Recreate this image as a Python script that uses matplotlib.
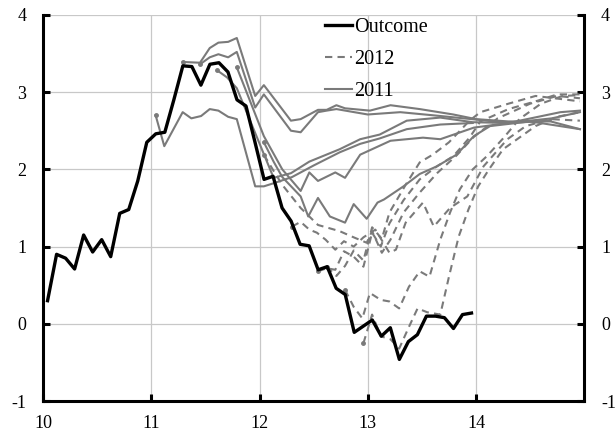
import numpy as np
import matplotlib
matplotlib.use("Agg")
import matplotlib.pyplot as plt

plt.rcParams["font.family"] = ["Liberation Serif", "DejaVu Serif"]
plt.rcParams["font.size"] = 13

# monthly outcome, Jan 2010 - Dec 2013
outcome = [0.30, 0.90, 0.85, 0.71, 1.15, 0.93, 1.09, 0.87, 1.43, 1.48, 1.85, 2.35,
           2.46, 2.48, 2.90, 3.34, 3.33, 3.09, 3.36, 3.38, 3.26, 2.90, 2.82, 2.35,
           1.87, 1.91, 1.50, 1.33, 1.03, 1.01, 0.70, 0.74, 0.46, 0.38, -0.11, -0.03,
           0.05, -0.16, -0.05, -0.46, -0.23, -0.14, 0.10, 0.10, 0.08, -0.06, 0.12, 0.14]

# 2011 forecasts (date, value)
f2011_feb_x = [11.04, 11.12, 11.29, 11.37, 11.46, 11.54, 11.62, 11.71, 11.79, 11.96, 12.04,
               12.13, 12.30, 12.50, 12.74, 12.93, 13.11, 13.36, 13.67, 13.97]
f2011_feb_y = [2.70, 2.30, 2.74, 2.66, 2.69, 2.78, 2.76, 2.68, 2.65, 1.78, 1.78,
               1.82, 1.90, 2.05, 2.22, 2.33, 2.40, 2.52, 2.58, 2.60]
f2011_apr_x = [11.29, 11.45, 11.54, 11.62, 11.71, 11.79, 11.96, 12.04, 12.29, 12.38, 12.46,
               12.54, 12.62, 12.71, 12.79, 13.02, 13.21, 13.48, 13.79, 14.00, 14.30, 14.69, 14.96]
f2011_apr_y = [3.39, 3.38, 3.57, 3.64, 3.65, 3.70, 2.95, 3.09, 2.63, 2.65, 2.71,
               2.77, 2.77, 2.83, 2.79, 2.76, 2.83, 2.78, 2.71, 2.65, 2.62, 2.62, 2.52]
f2011_jul_x = [11.45, 11.54, 11.62, 11.71, 11.79, 11.96, 12.04, 12.29, 12.38, 12.46, 12.54,
               12.62, 12.71, 13.00, 13.30, 13.60, 13.96, 14.30, 14.70, 14.96]
f2011_jul_y = [3.36, 3.45, 3.49, 3.45, 3.52, 2.80, 2.97, 2.50, 2.48, 2.61, 2.74,
               2.76, 2.78, 2.71, 2.74, 2.70, 2.65, 2.60, 2.66, 2.74]
f2011_sep_x = [11.61, 11.70, 11.79, 12.13, 12.29, 12.46, 12.74, 12.93, 13.11, 13.36, 13.67,
               13.97, 14.30, 14.69]
f2011_sep_y = [3.28, 3.19, 3.05, 1.89, 1.95, 2.10, 2.26, 2.39, 2.45, 2.63, 2.67,
               2.61, 2.60, 2.63]
f2011_oct_x = [11.79, 12.04, 12.21, 12.38, 12.46, 12.54, 12.70, 12.79, 12.93, 13.21, 13.51,
               13.67, 13.98, 14.30, 14.78, 14.96]
f2011_oct_y = [3.32, 2.43, 2.00, 1.72, 1.96, 1.85, 1.96, 1.89, 2.19, 2.37, 2.41,
               2.39, 2.54, 2.60, 2.74, 2.76]
f2011_dec_x = [12.04, 12.13, 12.21, 12.38, 12.45, 12.54, 12.65, 12.79, 12.87, 12.99, 13.09,
               13.15, 13.33, 13.48, 13.64, 13.82, 13.98, 14.13, 14.50, 14.96]
f2011_dec_y = [2.35, 2.10, 1.90, 1.65, 1.39, 1.63, 1.39, 1.31, 1.55, 1.36, 1.57,
               1.61, 1.78, 1.94, 2.04, 2.19, 2.43, 2.56, 2.62, 2.52]

# 2012 forecasts (date, value)
f2012_feb_x = [12.04, 12.13, 12.21, 12.38, 12.54, 12.74, 12.87, 12.99, 13.04, 13.13, 13.21,
               13.33, 13.48, 13.64, 13.82, 13.98, 14.20, 14.50, 14.75, 14.96]
f2012_feb_y = [2.19, 1.98, 1.80, 1.50, 1.28, 1.20, 1.12, 1.05, 1.20, 0.92, 1.09,
               1.44, 1.70, 1.95, 2.18, 2.42, 2.66, 2.85, 2.95, 2.92]
f2012_apr_x = [12.30, 12.38, 12.46, 12.53, 12.61, 12.70, 12.78, 12.87, 12.96, 13.07, 13.20,
               13.26, 13.35, 13.51, 13.61, 13.76, 13.92, 14.07, 14.29, 14.46, 14.69, 14.96]
f2012_apr_y = [1.26, 1.32, 1.22, 1.18, 1.09, 0.96, 1.07, 1.00, 1.12, 1.22, 0.92,
               0.96, 1.31, 1.57, 1.26, 1.50, 1.65, 2.04, 2.39, 2.56, 2.65, 2.63]
f2012_jul_x = [12.54, 12.62, 12.70, 12.78, 12.87, 12.96, 13.04, 13.12, 13.20, 13.33, 13.48,
               13.64, 13.79, 13.94, 14.04, 14.30, 14.55, 14.75, 14.96]
f2012_jul_y = [0.68, 0.72, 0.70, 0.94, 0.87, 0.74, 1.18, 1.00, 1.30, 1.60, 1.87,
               2.04, 2.17, 2.41, 2.62, 2.78, 2.88, 2.97, 2.97]
f2012_sep_x = [12.62, 12.71, 12.79, 12.87, 12.96, 13.04, 13.13, 13.20, 13.35, 13.48, 13.60,
               13.75, 13.94, 14.04, 14.30, 14.55, 14.96]
f2012_sep_y = [0.74, 0.62, 0.75, 0.95, 0.82, 1.25, 1.10, 1.44, 1.80, 2.09, 2.19,
               2.35, 2.63, 2.74, 2.85, 2.95, 2.88]
f2012_oct_x = [12.79, 12.87, 12.95, 13.02, 13.12, 13.20, 13.29, 13.38, 13.48, 13.57, 13.67,
               13.76, 13.85, 13.97, 14.10, 14.25, 14.40, 14.60, 14.80, 14.96]
f2012_oct_y = [0.44, 0.22, 0.07, 0.40, 0.31, 0.29, 0.20, 0.48, 0.68, 0.61, 1.09,
               1.44, 1.74, 2.00, 2.17, 2.40, 2.65, 2.85, 2.95, 2.96]
f2012_dec_x = [12.96, 13.04, 13.12, 13.21, 13.29, 13.38, 13.46, 13.55, 13.67, 13.75, 13.84,
               13.93, 14.02, 14.12, 14.25, 14.38, 14.55, 14.75, 14.96]
f2012_dec_y = [-0.25, 0.12, -0.16, -0.20, -0.32, -0.04, 0.20, 0.15, 0.12, 0.61, 1.13,
               1.48, 1.78, 2.00, 2.26, 2.39, 2.56, 2.68, 2.74]

forecasts_2011 = [(f2011_feb_x, f2011_feb_y), (f2011_apr_x, f2011_apr_y),
                  (f2011_jul_x, f2011_jul_y), (f2011_sep_x, f2011_sep_y),
                  (f2011_oct_x, f2011_oct_y), (f2011_dec_x, f2011_dec_y)]
forecasts_2012 = [(f2012_feb_x, f2012_feb_y), (f2012_apr_x, f2012_apr_y),
                  (f2012_jul_x, f2012_jul_y), (f2012_sep_x, f2012_sep_y),
                  (f2012_oct_x, f2012_oct_y), (f2012_dec_x, f2012_dec_y)]

gray = "#7a7a7a"

fig = plt.figure(figsize=(6.15, 4.36), dpi=100)
ax = fig.add_axes([0.070, 0.080, 0.880, 0.886])

for x, y in forecasts_2011:
    ax.plot(x, y, color=gray, lw=1.5, zorder=2)
    ax.plot(x[0], y[0], "o", color=gray, ms=2.5, zorder=2)
for x, y in forecasts_2012:
    ax.plot(x, y, color=gray, lw=1.5, dashes=(3.5, 2.5), zorder=2)
    ax.plot(x[0], y[0], "o", color=gray, ms=2.5, zorder=2)

months = 10 + (np.arange(len(outcome)) + 0.5) / 12
ax.plot(months, outcome, color="black", lw=2.4, zorder=3)

# legend proxies
h_out, = ax.plot([], [], color="black", lw=2.4)
h_12, = ax.plot([], [], color=gray, lw=1.5, dashes=(3.5, 2.5))
h_11, = ax.plot([], [], color=gray, lw=1.5)
fig.legend([h_out, h_12, h_11], ["Outcome", "2012", "2011"],
           loc="upper left", bbox_to_anchor=(0.512, 0.983), frameon=False,
           handlelength=1.35, handletextpad=0.12, labelspacing=0.64,
           borderpad=0, fontsize=14.5)

ax.set_xlim(10, 15)
ax.set_ylim(-1, 4)
ax.set_xticks([10, 11, 12, 13, 14])
ax.set_yticks([-1, 0, 1, 2, 3, 4])
ax.set_yticklabels(["-1", "0", "1", "2", "3", "4"])
ax.grid(True, color="#c8c8c8", lw=0.9)
ax.set_axisbelow(True)

for side in ["left", "right", "bottom"]:
    ax.spines[side].set_linewidth(2.2)
    ax.spines[side].set_color("black")
ax.spines["top"].set_visible(False)

ax.tick_params(axis="both", direction="in", length=5, width=2.2, labelsize=13)
ax.tick_params(axis="y", right=True, labelright=True, pad=12)
ax.tick_params(axis="x", pad=10)

fig.savefig("out.png", dpi=100)
